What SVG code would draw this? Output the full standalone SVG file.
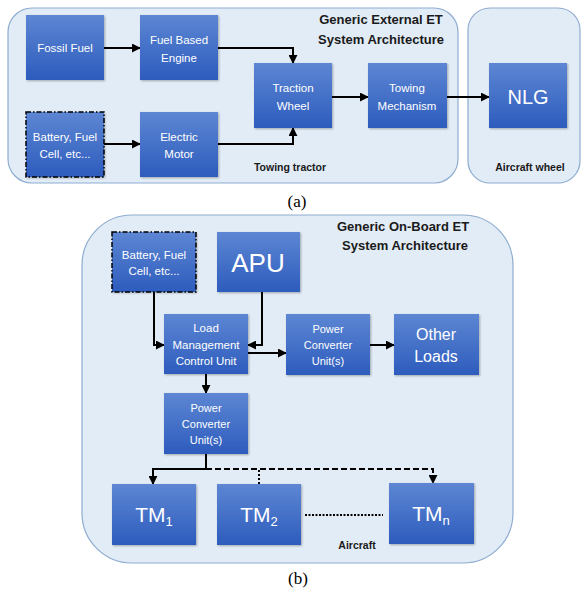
<svg xmlns="http://www.w3.org/2000/svg" width="584" height="591" viewBox="0 0 584 591">
<defs>
<linearGradient id="bg" x1="0" y1="0" x2="0" y2="1">
<stop offset="0" stop-color="#5d86d3"/>
<stop offset="1" stop-color="#2d5cbd"/>
</linearGradient>
<marker id="ah" viewBox="0 0 10 10" refX="9" refY="5" markerWidth="4.5" markerHeight="4.5" orient="auto" markerUnits="strokeWidth">
<path d="M0,0 L10,5 L0,10 z" fill="#000"/>
</marker>
<filter id="sh" x="-10%" y="-10%" width="130%" height="130%">
<feDropShadow dx="1" dy="1" stdDeviation="0.8" flood-color="#000" flood-opacity="0.3"/>
</filter>
</defs>
<style>
.cont{fill:#e2ecf6;stroke:#8eaccf;stroke-width:1.2}
.box{fill:url(#bg);filter:url(#sh)}
.dash{stroke:#000;stroke-width:1.5;stroke-dasharray:5 2 1.5 2}
.t{font-family:"Liberation Sans",Arial,sans-serif;fill:#fff;text-anchor:middle}
.h{font-family:"Liberation Sans",Arial,sans-serif;font-weight:bold;fill:#1a1a1a;text-anchor:middle}
.cap{font-family:"Liberation Serif","Times New Roman",serif;font-size:17px;fill:#000;text-anchor:middle}
.c{fill:none;stroke:#000;stroke-width:2}
.ca{fill:none;stroke:#000;stroke-width:2;marker-end:url(#ah)}
</style>
<rect width="584" height="591" fill="#fff"/>
<!-- (a) containers -->
<g id="towing-tractor">
<rect class="cont" x="8" y="8" width="450" height="175" rx="24"/>
<text class="h" x="381" y="24" font-size="13">Generic External ET</text>
<text class="h" x="381" y="44" font-size="13">System Architecture</text>
<text class="h" x="290" y="171" font-size="10.5">Towing tractor</text>
</g>
<g id="aircraft-wheel">
<rect class="cont" x="468" y="8" width="112" height="175" rx="22"/>
<text class="h" x="530" y="171" font-size="10.5">Aircraft wheel</text>
</g>
<g id="connectors-a">
<line class="ca" x1="104" y1="48" x2="140" y2="48"/>
<polyline class="ca" points="218,48 293,48 293,63"/>
<line class="ca" x1="104" y1="144" x2="140" y2="144"/>
<polyline class="ca" points="218,144 293,144 293,128"/>
<line class="ca" x1="332" y1="97" x2="368" y2="97"/>
<line class="ca" x1="447" y1="97" x2="489" y2="97"/>
</g>
<g id="fossil-fuel"><rect class="box" x="26" y="15" width="78" height="65"/><text class="t" x="65" y="52" font-size="11.5">Fossil Fuel</text></g>
<g id="fuel-engine"><rect class="box" x="140" y="15" width="78" height="65"/><text class="t" x="179" y="44" font-size="11.5">Fuel Based</text><text class="t" x="179" y="62" font-size="11.5">Engine</text></g>
<g id="battery-a"><rect class="box" x="26" y="112" width="78" height="65"/><rect class="dash" fill="none" x="26" y="112" width="78" height="65"/><text class="t" x="65" y="141" font-size="11.5">Battery, Fuel</text><text class="t" x="65" y="158" font-size="11.5">Cell, etc...</text></g>
<g id="electric-motor"><rect class="box" x="140" y="112" width="78" height="65"/><text class="t" x="179" y="141" font-size="11.5">Electric</text><text class="t" x="179" y="158" font-size="11.5">Motor</text></g>
<g id="traction-wheel"><rect class="box" x="254" y="63" width="78" height="65"/><text class="t" x="293" y="92" font-size="11.5">Traction</text><text class="t" x="293" y="110" font-size="11.5">Wheel</text></g>
<g id="towing-mechanism"><rect class="box" x="368" y="63" width="79" height="65"/><text class="t" x="407" y="92" font-size="11.5">Towing</text><text class="t" x="407" y="110" font-size="11.5">Mechanism</text></g>
<g id="nlg"><rect class="box" x="489" y="63" width="78" height="65"/><text class="t" x="528" y="104" font-size="20">NLG</text></g>
<text class="cap" x="297" y="207">(a)</text>
<!-- (b) -->
<g id="aircraft">
<rect class="cont" x="82" y="215" width="431" height="348" rx="50"/>
<text class="h" x="403" y="231" font-size="13">Generic On-Board ET</text>
<text class="h" x="405" y="250" font-size="13">System Architecture</text>
<text class="h" x="357" y="549" font-size="10.5">Aircraft</text>
</g>
<g id="connectors-b">
<polyline class="ca" points="154,292 154,345 164,345"/>
<polyline class="ca" points="262,292 262,345 248,345"/>
<line class="ca" x1="248" y1="353" x2="286" y2="353"/>
<line class="ca" x1="370" y1="345" x2="394" y2="345"/>
<line class="ca" x1="206" y1="374" x2="206" y2="393"/>
<polyline class="c" points="206,454 206,469"/>
<polyline class="ca" points="206,469 153,469 153,484"/>
<polyline class="ca" stroke-dasharray="6 3" points="206,469 433,469 433,483"/>
<line class="c" stroke-dasharray="2 2" x1="259" y1="470" x2="259" y2="484"/>
<line class="c" stroke-dasharray="2 1.5" x1="305" y1="515" x2="383" y2="515"/>
</g>
<g id="battery-b"><rect class="box" x="112" y="232" width="84" height="60"/><rect class="dash" fill="none" x="112" y="232" width="84" height="60"/><text class="t" x="154" y="259" font-size="11.5">Battery, Fuel</text><text class="t" x="154" y="275" font-size="11.5">Cell, etc...</text></g>
<g id="apu"><rect class="box" x="217" y="232" width="83" height="60"/><text class="t" x="258" y="272" font-size="26">APU</text></g>
<g id="load-mgmt"><rect class="box" x="164" y="314" width="84" height="60"/><text class="t" x="206" y="332" font-size="11.5">Load</text><text class="t" x="206" y="349" font-size="11.5">Management</text><text class="t" x="206" y="365" font-size="11.5">Control Unit</text></g>
<g id="pcu-1"><rect class="box" x="286" y="314" width="84" height="61"/><text class="t" x="328" y="333" font-size="11">Power</text><text class="t" x="328" y="349" font-size="11">Converter</text><text class="t" x="328" y="365" font-size="11">Unit(s)</text></g>
<g id="other-loads"><rect class="box" x="394" y="314" width="85" height="61"/><text class="t" x="436" y="340" font-size="16">Other</text><text class="t" x="436" y="362" font-size="16">Loads</text></g>
<g id="pcu-2"><rect class="box" x="164" y="393" width="84" height="61"/><text class="t" x="206" y="412" font-size="11">Power</text><text class="t" x="206" y="428" font-size="11">Converter</text><text class="t" x="206" y="444" font-size="11">Unit(s)</text></g>
<g id="tm1"><rect class="box" x="112" y="484" width="84" height="61"/><text class="t" x="154" y="522" font-size="21">TM<tspan font-size="13" dy="4">1</tspan></text></g>
<g id="tm2"><rect class="box" x="217" y="484" width="84" height="61"/><text class="t" x="259" y="522" font-size="21">TM<tspan font-size="13" dy="4">2</tspan></text></g>
<g id="tmn"><rect class="box" x="389" y="483" width="85" height="61"/><text class="t" x="431" y="521" font-size="21">TM<tspan font-size="13" dy="4">n</tspan></text></g>
<text class="cap" x="298" y="584">(b)</text>
</svg>
